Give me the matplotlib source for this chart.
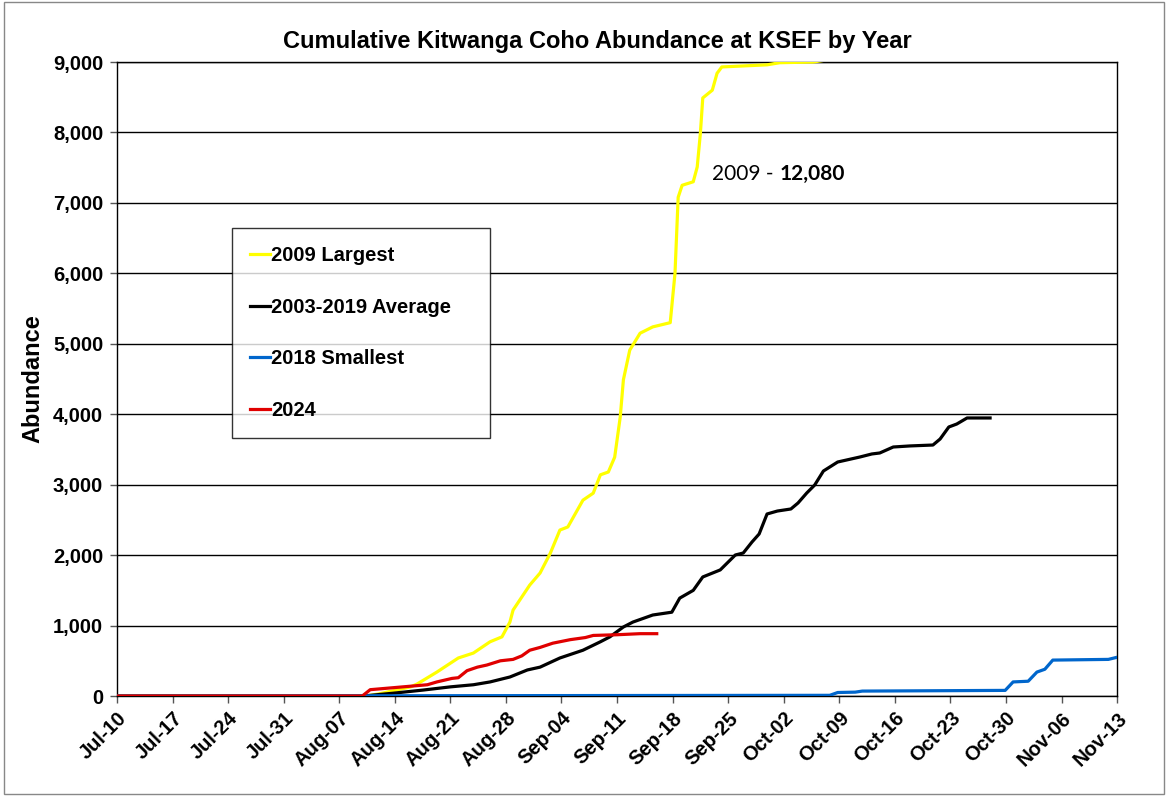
import matplotlib
matplotlib.use('Agg')
import matplotlib.pyplot as plt
from matplotlib.patches import Rectangle

plt.rcParams['font.family'] = ['Liberation Sans', 'DejaVu Sans']

# x values are days after Jul-10
tick_days = [0, 7, 14, 21, 28, 35, 42, 49, 56, 63, 70, 77, 84, 91, 98, 105, 112, 119, 126]
tick_labels = ['Jul-10', 'Jul-17', 'Jul-24', 'Jul-31', 'Aug-07', 'Aug-14', 'Aug-21', 'Aug-28',
               'Sep-04', 'Sep-11', 'Sep-18', 'Sep-25', 'Oct-02', 'Oct-09', 'Oct-16', 'Oct-23',
               'Oct-30', 'Nov-06', 'Nov-13']

y2009_days = [0, 31.4, 33, 35, 37, 37.8, 40.3, 43.0, 44.9, 47.0, 48.5, 49.5, 49.9, 52.0, 53.3,
              54.6, 55.8, 56.8, 58.7, 60.0, 60.9, 61.9, 62.7, 63.4, 63.8, 64.6, 65.9, 67.5,
              69.7, 70.3, 70.7, 71.2, 72.6, 73.1, 73.5, 73.8, 75.0, 75.6, 76.2, 81.9, 83.5,
              87.7, 90.0, 100.0, 115.0]
y2009_vals = [0, 0, 30, 80, 130, 170, 340, 540, 610, 770, 840, 1050, 1220, 1575, 1746,
              2030, 2356, 2400, 2780, 2880, 3140, 3180, 3390, 3960, 4490, 4910, 5150, 5240,
              5300, 6000, 7080, 7250, 7300, 7510, 7990, 8490, 8600, 8840, 8930, 8960, 8990,
              9000, 9040, 10500, 12080]

avg_days = [0, 31.0, 34.8, 38.6, 42.0, 44.9, 47.0, 49.5, 51.7, 53.3, 55.8, 58.7, 60.9, 62.1,
            63.8, 65.0, 67.5, 69.9, 70.9, 72.6, 73.8, 76.0, 77.9, 78.9, 80.0, 80.9, 81.9,
            83.2, 84.9, 85.8, 86.9, 87.9, 89.0, 90.8, 93.6, 95.1, 96.1, 97.8, 99.9, 102.8,
            103.7, 104.8, 105.8, 107.1, 110.0]
avg_vals = [0, 0, 40, 85, 130, 160, 200, 270, 370, 410, 540, 650, 770, 840,
            980, 1050, 1150, 1190, 1390, 1500, 1690, 1790, 2002, 2030, 2186, 2300, 2584,
            2626, 2655, 2740, 2882, 2995, 3194, 3322, 3393, 3436, 3450, 3535, 3550, 3563,
            3648, 3819, 3861, 3947, 3947]

y2018_days = [0, 89.8, 90.8, 93.0, 93.9, 111.9, 112.9, 114.8, 115.9, 116.9, 117.9, 124.9, 126]
y2018_vals = [0, 10, 50, 55, 70, 80, 200, 210, 340, 380, 510, 520, 550]

y2024_days = [0, 30.9, 31.9, 39.1, 40.3, 42.2, 43.0, 44.1, 45.4, 46.6, 48.3, 49.9, 51.0,
              52.0, 53.3, 54.9, 57.1, 59.0, 60.0, 63.0, 65.9, 68.0]
y2024_vals = [0, 0, 90, 160, 200, 250, 260, 360, 410, 440, 500, 520, 570,
              650, 690, 750, 800, 830, 860, 870, 885, 885]

fig = plt.figure(figsize=(11.68, 7.96), dpi=100)
ax = fig.add_axes([0.1002, 0.1256, 0.8562, 0.7965])

lw = 2.3
ax.plot(y2009_days, y2009_vals, color='#FFFF00', lw=lw, label='2009 Largest', zorder=3)
ax.plot(avg_days, avg_vals, color='black', lw=lw, label='2003-2019 Average', zorder=3)
ax.plot(y2018_days, y2018_vals, color='#0066CC', lw=lw, label='2018 Smallest', zorder=3)
ax.plot(y2024_days, y2024_vals, color='#E00000', lw=lw, label='2024', zorder=4)

ax.set_xlim(0, 126)
ax.set_ylim(0, 9000)
ax.set_xticks(tick_days)
ax.set_xticklabels(tick_labels, rotation=45, ha='right', rotation_mode='anchor',
                   fontsize=14.5, fontweight='bold')
yt = list(range(0, 9001, 1000))
ax.set_yticks(yt)
ax.set_yticklabels([f'{v:,}' for v in yt], fontsize=14.5, fontweight='bold')
ax.tick_params(axis='both', direction='out', length=5, color='#555555', width=1)
ax.tick_params(axis='x', pad=4)
ax.tick_params(axis='y', pad=5)
ax.grid(axis='y', color='black', lw=1)
ax.set_axisbelow(True)
for s in ax.spines.values():
    s.set_color('black')
    s.set_linewidth(1)

ax.set_ylabel('Abundance', fontsize=17, fontweight='bold', labelpad=6)
ax.set_title('Cumulative Kitwanga Coho Abundance at KSEF by Year', fontsize=17,
             fontweight='bold', pad=10, x=0.48)

leg = ax.legend(loc='upper left', bbox_to_anchor=(0.115, 0.41, 0.258, 0.328), mode='expand',
                frameon=True, fancybox=False, edgecolor='black',
                prop={'weight': 'bold', 'size': 14.5}, handlelength=1.0,
                labelspacing=1.62, borderpad=0.9, handletextpad=0.05, borderaxespad=0)
leg.get_frame().set_linewidth(1)

t1 = ax.text(75.0, 7320, '2009 - ', fontsize=15, family=['Lato', 'DejaVu Sans'],
             va='baseline')
ax.annotate('12,080', xy=(1, 0), xycoords=t1, va='bottom', ha='left', fontsize=15,
            fontweight='bold', family=['Lato', 'DejaVu Sans'])

fig.patches.append(Rectangle((0.003, 0.003), 0.994, 0.994, transform=fig.transFigure,
                             fill=False, edgecolor='#888888', lw=1))

fig.savefig('out.png', dpi=100)
